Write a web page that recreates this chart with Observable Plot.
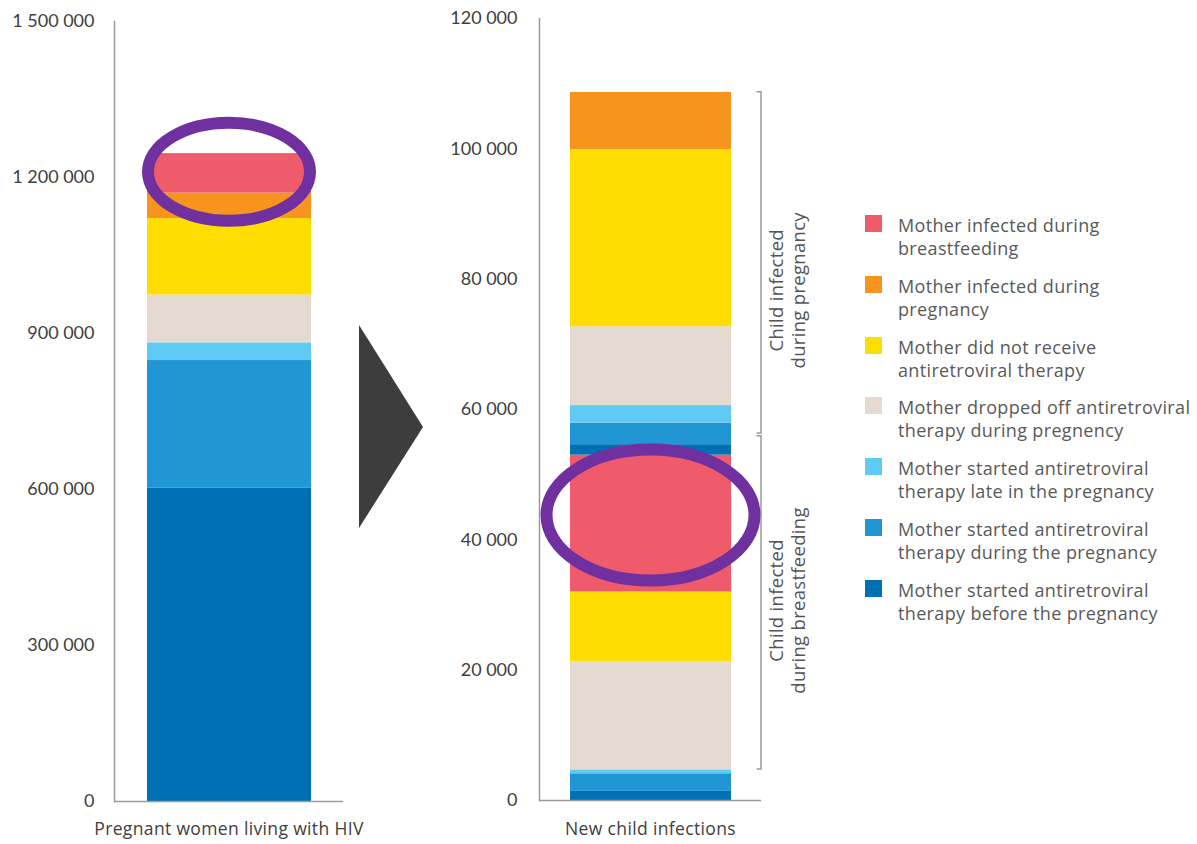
<!DOCTYPE html>
<html><head><meta charset="utf-8">
<script src="https://cdn.jsdelivr.net/npm/d3@7"></script>
<script src="https://cdn.jsdelivr.net/npm/@observablehq/plot@0.6"></script>
<style>
body{margin:0;background:#fff;font-family:Lato,"Open Sans",sans-serif;}
#wrap{position:relative;width:1197px;height:844px;overflow:hidden;background:#fff;}
#left{position:absolute;left:0;top:0}
#right{position:absolute;left:420px;top:0}
#arrow{position:absolute;left:0;top:0;pointer-events:none}
#legend{position:absolute;left:865px;top:215px;}
.item{position:absolute;left:0;width:330px}
.sw{position:absolute;left:0;top:0;width:17px;height:17px}
.lab{position:absolute;left:33px;top:-1px;font-family:"Open Sans",sans-serif;font-size:18px;letter-spacing:0.35px;line-height:23px;color:#595959;white-space:nowrap}
</style></head>
<body>
<div id="wrap">
  <div id="left"></div>
  <div id="right"></div>
  <svg id="arrow" width="1197" height="844"><polygon points="359,325 423,427 359,528" fill="#3d3d3d"/></svg>
  <div id="legend"></div>
</div>
<script>
// series in stacking order (bottom to top)
const seriesNames = [
  "Mother started antiretroviral\ntherapy before the pregnancy",
  "Mother started antiretroviral\ntherapy during the pregnancy",
  "Mother started antiretroviral\ntherapy late in the pregnancy",
  "Mother dropped off antiretroviral\ntherapy during pregnency",
  "Mother did not receive\nantiretroviral therapy",
  "Mother infected during\npregnancy",
  "Mother infected during\nbreastfeeding"
];
const seriesColors = ["#0070B4", "#2196D4", "#5FCBF4", "#E4DAD0", "#FFDD00", "#F7941D", "#EF5B6B"];
const barLabels = ["Pregnant women living with HIV", "New child infections"];

// values
const pregnantWomen       = [603000, 245000, 34000, 92000, 147000, 49000, 76000];
const childBreastfeeding  = [1400, 2700, 600, 16600, 10700, 0, 21000];
const childPregnancy      = [1600, 3300, 2700, 12100, 27200, 8750, 0];

// tick labels
const leftTicks  = [0, 300000, 600000, 900000, 1200000, 1500000];
const rightTicks = [0, 20000, 40000, 60000, 80000, 100000, 120000];

// bracket annotations on the right bar
const bracketLabels  = ["Child infected\nduring breastfeeding", "Child infected\nduring pregnancy"];
const bracketFrom    = [4760, 56300];
const bracketTo      = [55900, 108700];
const bracketLabelAt = [30700, 78300];

const fmt = d3.formatLocale({thousands: " ", grouping: [3], decimal: ".", currency: ["", ""]}).format(",");
const color = {domain: seriesNames, range: seriesColors};
const AXIS = "#9a9a9a", TXT = "#404040";
const font = {fontFamily: "Lato, 'Open Sans', sans-serif", fontSize: "18px", color: TXT, background: "transparent", overflow: "visible"};
const OPEN = "'Open Sans', sans-serif";

const leftData = seriesNames.map((s, i) => ({cat: barLabels[0], series: s, value: pregnantWomen[i]}));
const rightData = [
  ...seriesNames.map((s, i) => ({cat: barLabels[1], series: s, group: "breastfeeding", value: childBreastfeeding[i]})),
  ...seriesNames.map((s, i) => ({cat: barLabels[1], series: s, group: "pregnancy", value: childPregnancy[i]}))
].filter(d => d.value > 0);

const left = Plot.plot({
  width: 360, height: 844, marginLeft: 114, marginRight: 17, marginTop: 21, marginBottom: 43,
  style: font,
  x: {domain: [barLabels[0]], padding: 0, label: null},
  y: {domain: [0, 1500000], label: null},
  color,
  marks: [
    Plot.barY(leftData, Plot.stackY({x: "cat", y: "value", fill: "series", insetLeft: 33, insetRight: 32})),
    Plot.frame({anchor: "left", stroke: AXIS, strokeWidth: 1.5}),
    Plot.ruleY([0], {stroke: AXIS, strokeWidth: 1.5}),
    Plot.axisY({ticks: leftTicks, tickFormat: fmt, tickSize: 0, tickPadding: 20, label: null, fill: TXT}),
    Plot.axisX({tickSize: 0, tickPadding: 21, label: null, fontSize: 17.5, fontFamily: OPEN, fill: TXT})
  ]
});

const right = Plot.plot({
  width: 400, height: 844, marginLeft: 119, marginRight: 59, marginTop: 18, marginBottom: 44,
  style: font,
  x: {domain: [barLabels[1]], padding: 0, label: null},
  y: {domain: [0, 120000], label: null},
  color,
  marks: [
    Plot.barY(rightData, Plot.stackY({x: "cat", y: "value", fill: "series", insetLeft: 31, insetRight: 30})),
    Plot.frame({anchor: "left", stroke: AXIS, strokeWidth: 1.5}),
    Plot.ruleY([0], {stroke: AXIS, strokeWidth: 1.5}),
    Plot.axisY({ticks: rightTicks, tickFormat: fmt, tickSize: 0, tickPadding: 22, label: null, fill: TXT}),
    Plot.axisX({tickSize: 0, tickPadding: 22, label: null, fontSize: 17.5, fontFamily: OPEN, fill: TXT}),
    Plot.text(bracketLabels.map((t, i) => ({t, y: bracketLabelAt[i]})), {
      y: "y", text: "t", frameAnchor: "right", rotate: -90, dx: 25,
      fontSize: 18.5, fontFamily: OPEN, fill: "#555", lineHeight: 1.19, textAnchor: "middle"
    })
  ]
});

document.getElementById("left").appendChild(left);
document.getElementById("right").appendChild(right);

// slightly wider letter spacing for the category labels and bracket labels
for (const svg of [left, right]) {
  d3.select(svg).selectAll('g[aria-label="x-axis tick label"] text').style("letter-spacing", "0.35px");
  d3.select(svg).selectAll('g[aria-label="text"] text').style("letter-spacing", "0.3px");
}

// brackets drawn with the right chart's scales
{
  const y = right.scale("y"), x = right.scale("x");
  const xr = x.apply(barLabels[1]) + x.bandwidth;
  const svg = d3.select(right);
  bracketFrom.forEach((v, i) => {
    const y1 = y.apply(bracketTo[i]), y2 = y.apply(v);
    svg.append("path")
      .attr("d", `M${xr - 4.5},${y1}H${xr}V${y2}H${xr - 4.5}`)
      .attr("fill", "none").attr("stroke", AXIS).attr("stroke-width", 1.5);
  });
}

// purple highlight ellipses around "Mother infected during breastfeeding"
function highlight(svgEl, cat, stackValues, rx, ry, dy) {
  const y = svgEl.scale("y"), x = svgEl.scale("x");
  const hi = seriesNames.length - 1;
  const below = stackValues.slice(0, hi).reduce((a, b) => a + b, 0);
  const mid = below + stackValues[hi] / 2;
  d3.select(svgEl).append("ellipse")
    .attr("cx", x.apply(cat) + x.bandwidth / 2 + 0.5)
    .attr("cy", y.apply(mid) + dy)
    .attr("rx", rx).attr("ry", ry)
    .attr("fill", "none").attr("stroke", "#7030A0").attr("stroke-width", 12);
}
highlight(left, barLabels[0], pregnantWomen, 81, 49, -1);
highlight(right, barLabels[1], childBreastfeeding, 104, 65.5, -8);

// legend (top to bottom = reverse stacking order)
const legend = document.getElementById("legend");
seriesNames.slice().reverse().forEach((s, i) => {
  const item = document.createElement("div");
  item.className = "item";
  item.style.top = (i * 60.8) + "px";
  const sw = document.createElement("div");
  sw.className = "sw";
  sw.style.background = seriesColors[seriesNames.indexOf(s)];
  const lab = document.createElement("div");
  lab.className = "lab";
  lab.innerHTML = s.split("\n").join("<br>");
  item.appendChild(sw); item.appendChild(lab);
  legend.appendChild(item);
});
</script>
</body></html>
